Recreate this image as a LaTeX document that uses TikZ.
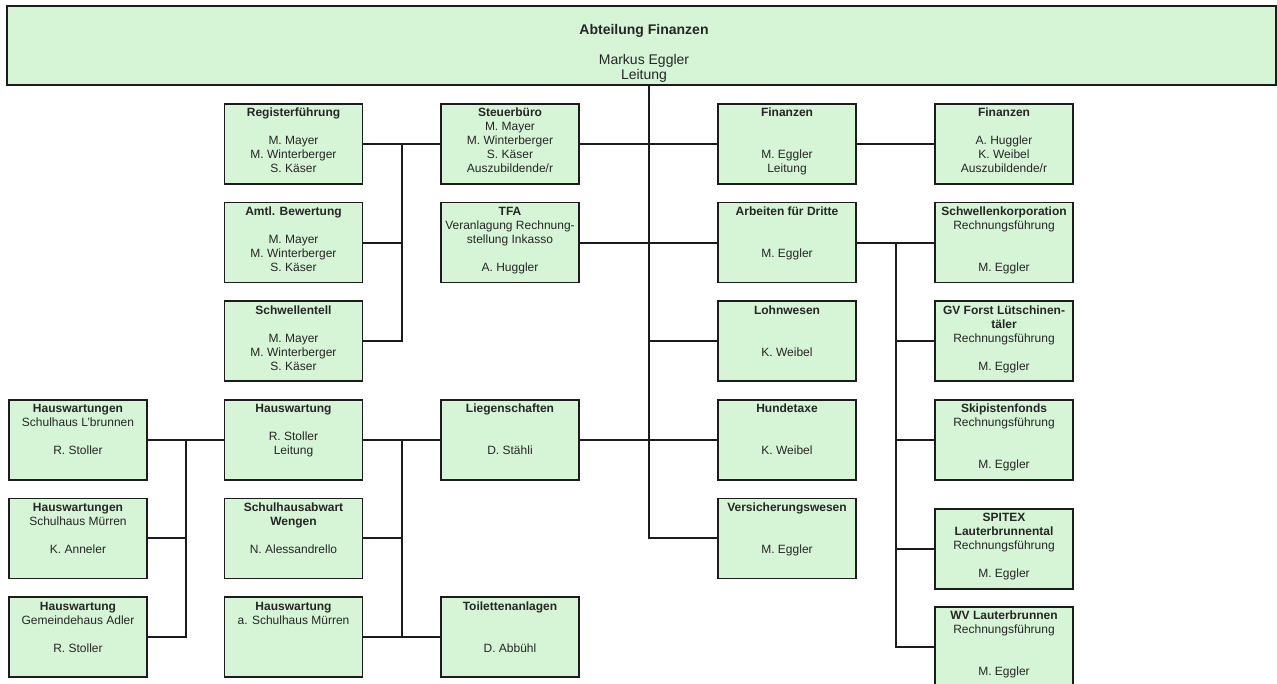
\documentclass[tikz,border=0pt]{standalone}
\usepackage{fontspec}
\setmainfont{Liberation Sans}
\usepackage{tikz}
\usetikzlibrary{calc}
\usetikzlibrary{positioning}
\definecolor{boxgreen}{RGB}{214,245,214}
\definecolor{boxline}{RGB}{28,28,28}

\begin{document}
\begin{tikzpicture}[x=1pt,y=1pt,node distance=98.6pt,on grid,font=\fontsize{12}{14}\selectfont]
	\tikzset{unit/.style={draw=boxline,fill=boxgreen,line width=1.8pt,inner sep=0pt,text=black!85,
		execute at begin node={\begin{minipage}[c][80pt][t]{138pt}\centering\rule{0pt}{13pt}},
		execute at end node={\end{minipage}}}}
	\tikzset{head/.style={draw=boxline,fill=boxgreen,line width=1.8pt,inner sep=0pt,text=black!85,
		font=\fontsize{14}{15}\selectfont,
		execute at begin node={\begin{minipage}[c][79pt][t]{1269pt}\centering\leftskip=5pt plus 1fil\baselineskip=15pt\rule{0pt}{29pt}},
		execute at end node={\end{minipage}}}}
	\tikzset{link/.style={draw=boxline,line width=2pt}}
	\tikzstyle{every edge}=[link]
	\useasboundingbox (0,0) rectangle (1277,-684);
	% Place Nodes
	\node[head] (abt) at (641.5,-45.5) {\textbf{Abteilung Finanzen}\\[15pt] Markus Eggler\\ Leitung};
	\node[unit] (reg) at (293.5,-144) {\textbf{Registerführung}\\[14pt] M. Mayer\\ M. Winterberger\\ S. Käser};
	\node[unit] (steuer) [right=216.5pt of reg] {\textbf{Steuerbüro}\\ M. Mayer\\ M. Winterberger\\ S. Käser\\ Auszubildende/r};
	\node[unit] (finanz) [right=277pt of steuer] {\textbf{Finanzen}\\[28pt] M. Eggler\\ Leitung};
	\node[unit] (finteam) [right=217pt of finanz] {\textbf{Finanzen}\\[14pt] A. Huggler\\ K. Weibel\\ Auszubildende/r};
	\node[unit] (amtl) [below=of reg] {\textbf{Amtl. Bewertung}\\[14pt] M. Mayer\\ M. Winterberger\\ S. Käser};
	\node[unit] (schwell) [below=of amtl] {\textbf{Schwellentell}\\[14pt] M. Mayer\\ M. Winterberger\\ S. Käser};
	\node[unit] (hw) [below=of schwell] {\textbf{Hauswartung}\\[14pt] R. Stoller\\ Leitung};
	\node[unit] (abwart) [below=of hw] {\textbf{Schulhausabwart}\\ \textbf{Wengen}\\[14pt] N. Alessandrello};
	\node[unit] (hwschul) [below=of abwart] {\textbf{Hauswartung}\\ a. Schulhaus Mürren};
	\node[unit] (hwbrunnen) [left=215.5pt of hw] {\textbf{Hauswartungen}\\ Schulhaus L'brunnen\\[14pt] R. Stoller};
	\node[unit] (hwmuerren) [below=of hwbrunnen] {\textbf{Hauswartungen}\\ Schulhaus Mürren\\[14pt] K. Anneler};
	\node[unit] (hwadler) [below=of hwmuerren] {\textbf{Hauswartung}\\ Gemeindehaus Adler\\[14pt] R. Stoller};
	\node[unit] (tfa) [below=of steuer] {\textbf{TFA}\\ Veranlagung Rechnung-\\ stellung Inkasso\\[14pt] A. Huggler};
	\node[unit] (liegen) [right=216.5pt of hw] {\textbf{Liegenschaften}\\[28pt] D. Stähli};
	\node[unit] (toilette) [right=216.5pt of hwschul] {\textbf{Toilettenanlagen}\\[28pt] D. Abbühl};
	\node[unit] (dritte) [below=of finanz] {\textbf{Arbeiten für Dritte}\\[28pt] M. Eggler};
	\node[unit] (lohn) [below=of dritte] {\textbf{Lohnwesen}\\[28pt] K. Weibel};
	\node[unit] (hunde) [below=of lohn] {\textbf{Hundetaxe}\\[28pt] K. Weibel};
	\node[unit] (versich) [below=of hunde] {\textbf{Versicherungswesen}\\[28pt] M. Eggler};
	\node[unit] (schwellk) [below=of finteam] {\textbf{Schwellenkorporation}\\ Rechnungsführung\\[28pt] M. Eggler};
	\node[unit] (gvforst) [below=of schwellk] {\textbf{GV Forst Lütschinen-}\\ \textbf{täler}\\ Rechnungsführung\\[14pt] M. Eggler};
	\node[unit] (ski) [below=of gvforst] {\textbf{Skipistenfonds}\\ Rechnungsführung\\[28pt] M. Eggler};
	\node[unit] (spitex) [below=109pt of ski] {\textbf{SPITEX}\\ \textbf{Lauterbrunnental}\\ Rechnungsführung\\[14pt] M. Eggler};
	\node[unit] (wv) [below=98pt of spitex] {\textbf{WV Lauterbrunnen}\\ Rechnungsführung\\[28pt] M. Eggler};
	% Bus points
	\coordinate (busreg) at ($(reg.east)!0.5!(steuer.west)$);
	\coordinate (bushw) at ($(hwbrunnen.east)!0.5!(hw.west)$);
	\coordinate (busliegen) at ($(hw.east)!0.5!(liegen.west)$);
	\coordinate (trunk) at ($(liegen.east)!0.5!(hunde.west)$);
	\coordinate (busdritte) at ($(dritte.east)!0.5!(schwellk.west)$);
	% Draw lines
	\path
	(reg) edge (steuer)
	(steuer) edge (finanz)
	(finanz) edge (finteam)
	(tfa) edge (dritte)
	(dritte) edge (schwellk)
	(hwbrunnen) edge (hw)
	(hw) edge (liegen)
	(liegen) edge (hunde)
	(hwschul) edge (toilette)
	(amtl.east) edge (amtl.east -| busreg)
	(lohn.west) edge (lohn.west -| trunk)
	(hwmuerren.east) edge (hwmuerren.east -| bushw)
	(abwart.east) edge (abwart.east -| busliegen)
	(gvforst.west) edge (gvforst.west -| busdritte)
	(ski.west) edge (ski.west -| busdritte)
	(spitex.west) edge (spitex.west -| busdritte);
	\draw[link] (abt.south -| trunk) |- (versich.west);
	\draw[link] (busreg) |- (schwell.east);
	\draw[link] (bushw) |- (hwadler.east);
	\draw[link] (busliegen) -- (busliegen |- toilette.west);
	\draw[link] (busdritte) |- (wv.west);
\end{tikzpicture}
\end{document}
